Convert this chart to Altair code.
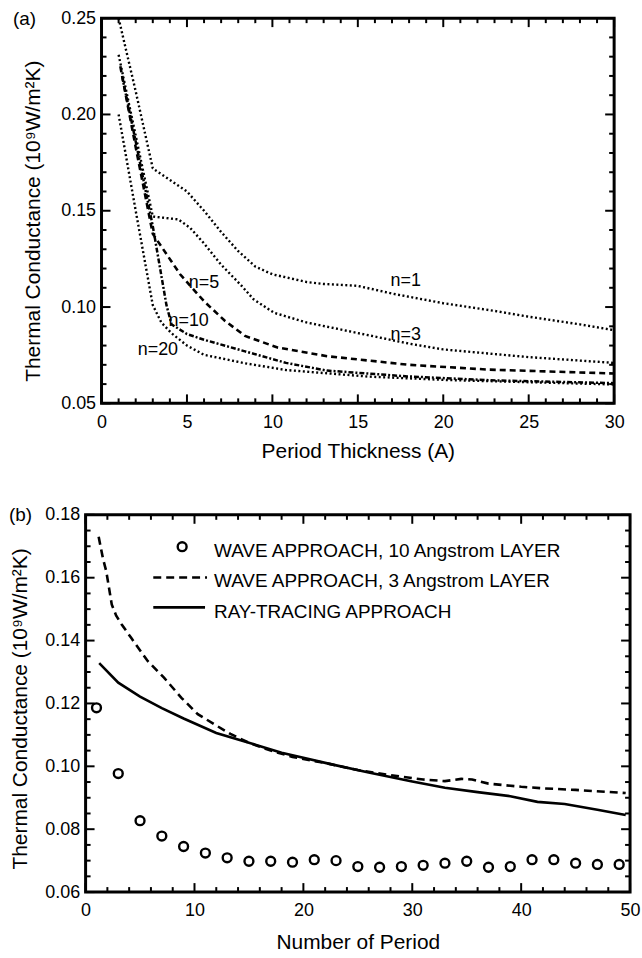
import altair as alt
import pandas as pd

FONT = "Liberation Sans"

# ---------------- Panel (a) data ----------------
a_n1_x = [1.0, 2.0, 3.0, 4.0, 5.0, 6.0, 7.0, 8.0, 9.0, 10.0, 11.0, 12.0, 13.0, 15.0, 17.0, 20.0, 23.0, 25.0, 28.0, 30.0]
a_n1_y = [0.250, 0.212, 0.172, 0.166, 0.160, 0.150, 0.139, 0.129, 0.121, 0.117, 0.115, 0.113, 0.112, 0.111, 0.107, 0.102, 0.098, 0.095, 0.091, 0.088]
a_n3_x = [1.0, 2.0, 3.0, 3.5, 4.5, 5.2, 6.0, 7.0, 8.2, 8.9, 10.1, 12.0, 15.0, 18.0, 20.0, 25.0, 30.0]
a_n3_y = [0.231, 0.189, 0.147, 0.1465, 0.1455, 0.141, 0.133, 0.122, 0.111, 0.104, 0.097, 0.092, 0.0865, 0.081, 0.078, 0.074, 0.071]
a_n5_x = [1.1, 2.0, 3.0, 4.6, 6.0, 7.2, 8.4, 10.3, 13.2, 18.0, 22.7, 30.0]
a_n5_y = [0.225, 0.183, 0.138, 0.117, 0.103, 0.093, 0.085, 0.079, 0.0745, 0.070, 0.0675, 0.0655]
a_n10_x = [1.2, 2.0, 3.0, 3.8, 4.1, 5.0, 6.0, 8.4, 10.8, 13.2, 17.9, 22.7, 30.0]
a_n10_y = [0.220, 0.186, 0.142, 0.101, 0.091, 0.086, 0.083, 0.077, 0.071, 0.067, 0.064, 0.062, 0.0605]
a_n20_x = [1.0, 2.0, 3.0, 3.5, 4.1, 5.0, 6.0, 8.4, 10.8, 15.6, 20.3, 30.0]
a_n20_y = [0.200, 0.150, 0.101, 0.092, 0.0864, 0.080, 0.0752, 0.0708, 0.0673, 0.0639, 0.0621, 0.0598]

a_labels = ["n=1", "n=3", "n=5", "n=10", "n=20"]
a_label_x = [17.8, 17.8, 6.0, 5.1, 3.3]
a_label_y = [0.1133, 0.0856, 0.1124, 0.0925, 0.0775]

a_xticks_major = [0, 5, 10, 15, 20, 25, 30]
a_yticks_major = [0.05, 0.10, 0.15, 0.20, 0.25]

# ---------------- Panel (b) data ----------------
b_circ_x = [1, 3, 5, 7, 9, 11, 13, 15, 17, 19, 21, 23, 25, 27, 29, 31, 33, 35, 37, 39, 41, 43, 45, 47, 49]
b_circ_y = [0.1186, 0.0977, 0.0827, 0.0778, 0.0745, 0.0724, 0.0709, 0.0698, 0.0698, 0.0695, 0.0703, 0.0700,
            0.0681, 0.0679, 0.0681, 0.0685, 0.0692, 0.0698, 0.0679, 0.0681, 0.0703, 0.0703, 0.0692, 0.0688, 0.0688]
b_dash_x = [1.2, 1.6, 1.9, 2.4, 2.8, 3.3, 4.2, 5.7, 7.2, 8.8, 10.3, 11.8, 13.3, 15.0, 17.0, 19.0, 22.5, 25.0,
            28.0, 31.0, 33.0, 34.5, 35.5, 37.0, 40.0, 42.0, 45.0, 49.6]
b_dash_y = [0.173, 0.166, 0.162, 0.1515, 0.148, 0.1452, 0.1408, 0.1335, 0.1282, 0.1218, 0.1166, 0.1134, 0.1103,
            0.1075, 0.1050, 0.1030, 0.1007, 0.0988, 0.0972, 0.0958, 0.0953, 0.0960, 0.0958, 0.0945, 0.0935,
            0.0930, 0.0925, 0.0915]
b_ray_x = [1.25, 3.0, 5.0, 7.0, 9.0, 12.0, 15.0, 18.0, 22.5, 26.0, 30.0, 33.0, 36.0, 39.0, 41.5, 44.0, 47.0, 49.6]
b_ray_y = [0.1328, 0.1266, 0.1222, 0.1185, 0.1152, 0.1106, 0.1075, 0.1043, 0.1007, 0.0980, 0.0952, 0.0932,
           0.0918, 0.0905, 0.0887, 0.0880, 0.0862, 0.0845]

b_legend_labels = ["WAVE APPROACH, 10 Angstrom LAYER", "WAVE APPROACH, 3 Angstrom LAYER", "RAY-TRACING APPROACH"]

b_xticks_major = [0, 10, 20, 30, 40, 50]
b_yticks_major = [0.06, 0.08, 0.10, 0.12, 0.14, 0.16, 0.18]

YTITLE = "Thermal Conductance (10⁹W/m²K)"

# ---------------- helpers ----------------
def frame_tick_layers(xdom, ydom, W, H, xs, ys, xmaj, xmin, ymaj, ymin, LMAJ=9, LMIN=5):
    """Inward frame ticks on all four sides, drawn as rules through the scales."""
    ux = (xdom[1] - xdom[0]) / W   # data units per pixel
    uy = (ydom[1] - ydom[0]) / H
    vrows, hrows = [], []
    for vals, L in ((xmaj, LMAJ), (xmin, LMIN)):
        for v in vals:
            vrows.append({"tx": v, "ya": ydom[0], "yb": ydom[0] + L * uy})
            vrows.append({"tx": v, "ya": ydom[1], "yb": ydom[1] - L * uy})
    for vals, L in ((ymaj, LMAJ), (ymin, LMIN)):
        for v in vals:
            hrows.append({"ty": v, "xa": xdom[0], "xb": xdom[0] + L * ux})
            hrows.append({"ty": v, "xa": xdom[1], "xb": xdom[1] - L * ux})
    vt = alt.Chart(pd.DataFrame(vrows)).mark_rule(color="black", strokeWidth=2).encode(
        x=alt.X("tx:Q", scale=xs, axis=None),
        y=alt.Y("ya:Q", scale=ys, axis=None), y2="yb:Q")
    ht = alt.Chart(pd.DataFrame(hrows)).mark_rule(color="black", strokeWidth=2).encode(
        y=alt.Y("ty:Q", scale=ys, axis=None),
        x=alt.X("xa:Q", scale=xs, axis=None), x2="xb:Q")
    return [vt, ht]


def make_axis(orient, values, fmt, title, lpad, tpad, title_y=None):
    kw = dict(orient=orient, values=values, format=fmt, title=title, ticks=False, domain=False, grid=False,
              labelFontSize=18, labelColor="black", labelPadding=lpad, labelFlush=False,
              labelOverlap=False, labelFont=FONT, titleFont=FONT, titleFontSize=21,
              titleFontWeight="normal", titleColor="black", titlePadding=tpad)
    if title_y is not None:
        kw["titleY"] = title_y
    return alt.Axis(**kw)


def line_layer(xv, yv, xs, ys, dash, width, xax=None, yax=None):
    d = pd.DataFrame({"x": xv, "y": yv})
    kw = dict(color="black", strokeWidth=width, strokeCap="butt")
    if dash:
        kw["strokeDash"] = dash
    return alt.Chart(d).mark_line(**kw).encode(
        x=alt.X("x:Q", scale=xs, axis=xax), y=alt.Y("y:Q", scale=ys, axis=yax))

# ---------------- Panel (a) ----------------
WA, HA = 515, 387
XDOM_A, YDOM_A = [0, 30], [0.05, 0.25]
xs_a = alt.Scale(domain=XDOM_A, nice=False, zero=False)
ys_a = alt.Scale(domain=YDOM_A, nice=False, zero=False)
xax_a = make_axis("bottom", a_xticks_major, "d", "Period Thickness (A)", 10, 9)
yax_a = make_axis("left", a_yticks_major, ".2f", YTITLE, 6, 17, title_y=HA / 2 + 10)

a_xmin = [v for v in range(0, 31) if v % 5 != 0]
a_ymin = [round(0.05 + 0.01 * i, 2) for i in range(21) if i % 5 != 0]
ticks_a = frame_tick_layers(XDOM_A, YDOM_A, WA, HA, xs_a, ys_a, a_xticks_major, a_xmin, a_yticks_major, a_ymin)

curves_a = [
    line_layer(a_n1_x, a_n1_y, xs_a, ys_a, [2, 2.5], 2.4, xax_a, yax_a),
    line_layer(a_n3_x, a_n3_y, xs_a, ys_a, [2, 2.5], 2.4),
    line_layer(a_n5_x, a_n5_y, xs_a, ys_a, [6, 4], 2.6),
    line_layer(a_n10_x, a_n10_y, xs_a, ys_a, [5, 2, 2, 2], 2.5),
    line_layer(a_n20_x, a_n20_y, xs_a, ys_a, [2, 2.5], 2.4),
]

df_alab = pd.DataFrame({"lab": a_labels, "x": a_label_x, "y": a_label_y})
labels_a = alt.Chart(df_alab).mark_text(fontSize=18, font=FONT, color="black").encode(
    x=alt.X("x:Q", scale=xs_a, axis=None), y=alt.Y("y:Q", scale=ys_a, axis=None), text="lab:N")

tag_a = alt.Chart(pd.DataFrame({"t": ["(a)"]})).mark_text(
    fontSize=19, font=FONT, color="black", align="left", baseline="middle").encode(
    x=alt.value(-89), y=alt.value(1), text="t:N")

panel_a = alt.layer(*curves_a, labels_a, *ticks_a, tag_a).resolve_axis(
    x="independent", y="independent").properties(width=WA, height=HA)

# ---------------- Panel (b) ----------------
WB, HB = 547, 379
XDOM_B, YDOM_B = [0, 50], [0.06, 0.18]
xs_b = alt.Scale(domain=XDOM_B, nice=False, zero=False)
ys_b = alt.Scale(domain=YDOM_B, nice=False, zero=False)
xax_b = make_axis("bottom", b_xticks_major, "d", "Number of Period", 10, 12)
yax_b = make_axis("left", b_yticks_major, ".2f", YTITLE, 6, 14, title_y=HB / 2 + 5)

b_xmin = [v for v in range(0, 51, 2) if v % 10 != 0]
b_ymin = [round(0.06 + 0.005 * i, 3) for i in range(25) if i % 4 != 0]
ticks_b = frame_tick_layers(XDOM_B, YDOM_B, WB, HB, xs_b, ys_b, b_xticks_major, b_xmin, b_yticks_major, b_ymin)

dash_b = line_layer(b_dash_x, b_dash_y, xs_b, ys_b, [8, 5], 2.6, xax_b, yax_b)
ray_b = line_layer(b_ray_x, b_ray_y, xs_b, ys_b, None, 2.6)

df_circ = pd.DataFrame({"x": b_circ_x, "y": b_circ_y})
circ_b = alt.Chart(df_circ).mark_point(shape="circle", filled=False, color="black", size=80,
                                       strokeWidth=2.4, opacity=1).encode(
    x=alt.X("x:Q", scale=xs_b, axis=None), y=alt.Y("y:Q", scale=ys_b, axis=None))

leg_pt = alt.Chart(pd.DataFrame({"t": [b_legend_labels[0]]})).mark_point(
    shape="circle", filled=False, color="black", size=80, strokeWidth=2.4, opacity=1).encode(
    x=alt.value(97), y=alt.value(32))
leg_dash = alt.Chart(pd.DataFrame({"t": [b_legend_labels[1]]})).mark_rule(
    color="black", strokeWidth=2.6, strokeDash=[8, 5]).encode(x=alt.value(68), x2=alt.value(122), y=alt.value(63))
leg_solid = alt.Chart(pd.DataFrame({"t": [b_legend_labels[2]]})).mark_rule(
    color="black", strokeWidth=2.6).encode(x=alt.value(68), x2=alt.value(120), y=alt.value(93))
leg_texts = []
for lab, yy in zip(b_legend_labels, [36, 67, 98]):
    leg_texts.append(alt.Chart(pd.DataFrame({"t": [lab]})).mark_text(
        fontSize=19, font=FONT, color="black", align="left", baseline="middle").encode(
        x=alt.value(129), y=alt.value(yy), text="t:N"))

tag_b = alt.Chart(pd.DataFrame({"t": ["(b)"]})).mark_text(
    fontSize=19, font=FONT, color="black", align="left", baseline="middle").encode(
    x=alt.value(-77), y=alt.value(0), text="t:N")

panel_b = alt.layer(dash_b, ray_b, circ_b, *ticks_b, leg_pt, leg_dash, leg_solid, *leg_texts, tag_b).resolve_axis(
    x="independent", y="independent").properties(width=WB, height=HB)

chart = alt.vconcat(panel_a, panel_b, center=True, bounds="flush", spacing=112).properties(
    padding={"left": 7, "top": 5, "right": 0, "bottom": 0},
    background="white",
).configure_view(stroke="black", strokeWidth=3)

chart.save("out.html", embed_options={"renderer": "svg", "actions": False})
